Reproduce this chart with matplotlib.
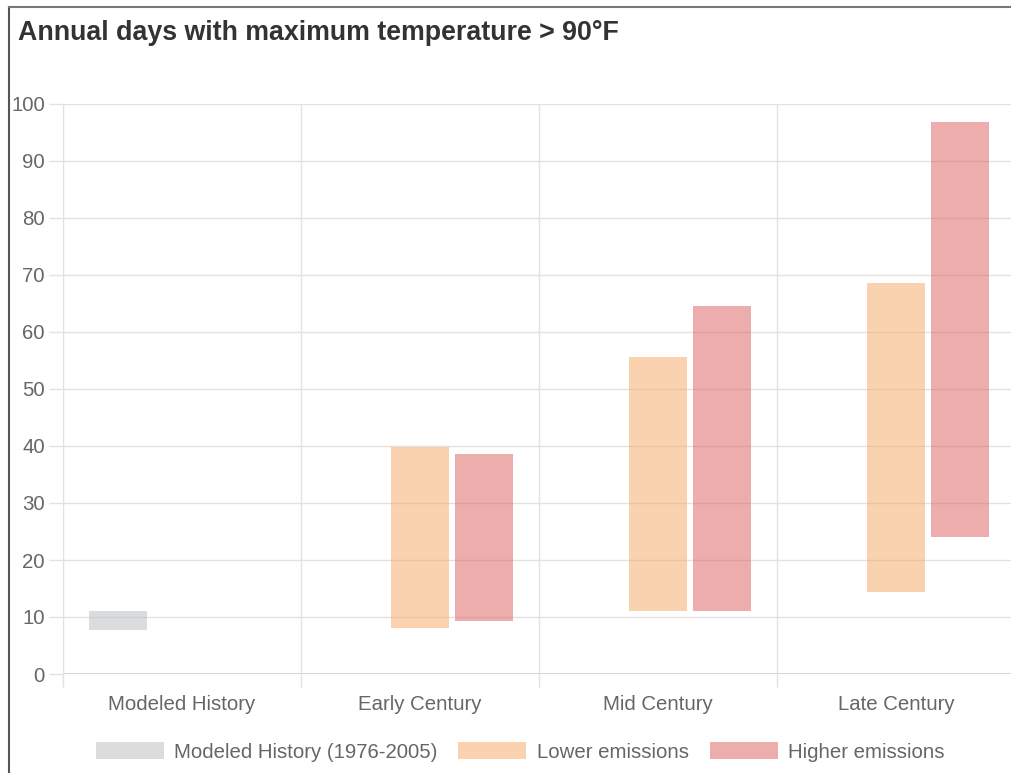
import numpy as np
import matplotlib.pyplot as plt
from matplotlib.lines import Line2D
from matplotlib.patches import Patch

plt.rcParams['font.family'] = ['Liberation Sans', 'DejaVu Sans']

categories = ['Modeled History', 'Early Century', 'Mid Century', 'Late Century']

# floating bars: (low, high) ranges per period
history_low = [7.7, None, None, None]
history_high = [11.0, None, None, None]
lower_low = [None, 8.0, 11.1, 14.4]
lower_high = [None, 39.8, 55.7, 68.6]
higher_low = [None, 9.3, 11.1, 24.0]
higher_high = [None, 38.6, 64.6, 96.9]

series = [
    ('Modeled History (1976-2005)', history_low, history_high, (185/255, 187/255, 191/255, 0.5)),
    ('Lower emissions', lower_low, lower_high, (247/255, 167/255, 98/255, 0.5)),
    ('Higher emissions', higher_low, higher_high, (222/255, 93/255, 93/255, 0.5)),
]

W, H = 1011, 773
fig = plt.figure(figsize=(W / 100, H / 100), dpi=100)
ax = fig.add_axes([63 / W, (H - 674) / H, 952 / W, 570 / H])

x = np.arange(len(categories))
offset = 0.267
width = 0.244
for i, (name, lo, hi, col) in enumerate(series):
    for j in range(len(categories)):
        if lo[j] is None:
            continue
        ax.bar(x[j] + (i - 1) * offset, hi[j] - lo[j], bottom=lo[j], width=width,
               color=col, linewidth=0, zorder=3)

ax.set_xlim(-0.5, 3.5)
ax.set_ylim(0, 100)

grid_c = '#e2e2e2'
fs = 14.7
ax.set_yticks(np.arange(0, 101, 10))
ax.set_xticks(np.arange(-0.5, 4.0, 1.0))
ax.set_xticklabels([])
ax.set_xticks(x, minor=True)
ax.set_xticklabels(categories, minor=True)
ax.tick_params(axis='x', which='minor', length=0, pad=15, labelsize=fs, labelcolor='#666666')
ax.tick_params(axis='x', which='major', length=9.5, color=grid_c, width=1)
ax.tick_params(axis='y', length=10, color=grid_c, width=1, pad=3, labelsize=fs, labelcolor='#666666')
ax.grid(True, which='major', color=grid_c, linewidth=1, zorder=0)
ax.set_axisbelow(True)
for s in ['top', 'right', 'bottom']:
    ax.spines[s].set_visible(False)
ax.spines['left'].set_color(grid_c)
ax.axhline(0, color='#d0d0d0', linewidth=1.2, zorder=2)

fig.text(18 / W, 1 - 33 / H, 'Annual days with maximum temperature > 90°F',
         fontsize=19.3, fontweight='bold', color='#333333', va='center', ha='left')

handles = [Patch(facecolor=c, edgecolor='none', label=n) for n, _, _, c in series]
fig.legend(handles=handles, loc='center', bbox_to_anchor=(520 / W, 1 - 752 / H), ncol=3,
           frameon=False, fontsize=fs, handlelength=3.33, handleheight=0.93,
           handletextpad=0.5, columnspacing=1.03, labelcolor='#666666')

# outer frame
fig.add_artist(Line2D([8.5 / W, 8.5 / W], [0, 1 - 6.5 / H], color='#555555', linewidth=1.5))
fig.add_artist(Line2D([8.5 / W, 1], [1 - 6.5 / H, 1 - 6.5 / H], color='#777777', linewidth=1.5))

fig.savefig('out.png', dpi=100)
